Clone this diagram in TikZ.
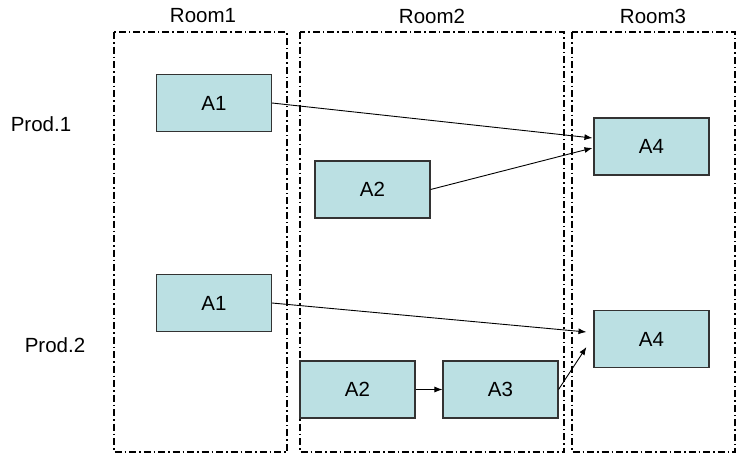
\documentclass[tikz,border=0pt]{standalone}
\usepackage{fontspec}
\setmainfont{Liberation Sans}
\usetikzlibrary{arrows.meta}
\definecolor{boxfill}{HTML}{BBE0E3}
\definecolor{boxline}{HTML}{333333}
\begin{document}
\begin{tikzpicture}[x=1pt,y=-1pt,
  room/.style={draw=black, line width=1.4pt, dash pattern=on 7pt off 3pt on 1.5pt off 3pt},
  act/.style={draw=boxline, fill=boxfill, line width=1.1pt, minimum width=115pt, minimum height=57pt, inner sep=0pt, font=\fontsize{20.5}{24}\selectfont},
  lab/.style={font=\fontsize{20.5}{24}\selectfont, inner sep=0pt},
  conn/.style={draw=black, line width=0.9pt, -{Latex[length=8pt,width=6pt]}}]
\useasboundingbox (0,0) rectangle (736,455);
% rooms
\draw[room] (114,32) rectangle (287,452);
\draw[room] (300,32) rectangle (564,452);
\draw[room] (572,32) rectangle (735,452);
\node[lab] (r1) at (203,16) {Room1};
\node[lab] (r2) at (432,16) {Room2};
\node[lab] (r3) at (653,16) {Room3};
\node[lab] (p1) at (41,124) {Prod.1};
\node[lab] (p2) at (55,345) {Prod.2};
% activities
\node[act] (a1t) at (214,103) {A1};
\node[act] (a2t) at (372.5,189.5) {A2};
\node[act] (a4t) at (651.5,146.5) {A4};
\node[act] (a1b) at (214,303) {A1};
\node[act] (a2b) at (357.5,389.5) {A2};
\node[act] (a3) at (500.5,389.5) {A3};
\node[act] (a4b) at (651.5,339) {A4};
% connectors
\draw[conn] (a1t.east) -- ([xshift=-1pt,yshift=8.5pt]a4t.west);
\draw[conn] (a2t.east) -- ([xshift=-1pt,yshift=-1.5pt]a4t.west);
\draw[conn] (a1b.east) -- ([xshift=-7pt,yshift=7pt]a4b.west);
\draw[conn] (a2b.east) -- (a3.west);
\draw[conn] (a3.east) -- ([xshift=-7pt,yshift=-8pt]a4b.west);
\end{tikzpicture}
\end{document}
